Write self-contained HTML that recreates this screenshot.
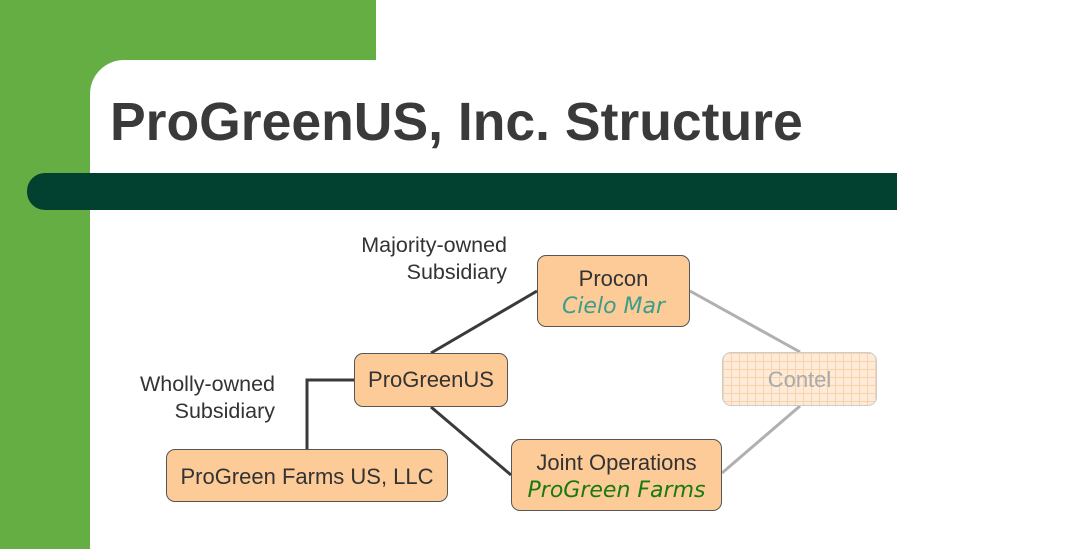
<!DOCTYPE html>
<html><head><meta charset="utf-8"><style>
body{margin:0;width:1079px;height:549px;position:relative;overflow:hidden;background:#fff;font-family:"Liberation Sans",sans-serif}
.a{position:absolute}
.box{position:absolute;background:#fdcb98;border:1px solid #555;border-radius:9px;box-sizing:border-box;text-align:center;color:#333;font-size:22px}
.hand{font-family:"Comic Sans MS","DejaVu Sans",cursive;font-style:italic;font-size:22px}
.lbl{position:absolute;color:#333;font-size:21.5px;text-align:right;line-height:27px}
</style></head><body>
<div class="a" style="left:0;top:0;width:376px;height:60px;background:#65ae43"></div>
<div class="a" style="left:0;top:0;width:90px;height:549px;background:#65ae43"></div>
<div class="a" style="left:90px;top:60px;width:40px;height:40px;background:#65ae43"></div>
<div class="a" style="left:90px;top:60px;width:989px;height:489px;background:#fff;border-top-left-radius:34px"></div>
<div class="a" style="left:27px;top:173px;width:870px;height:37px;background:#024030;border-radius:18px 0 0 18px"></div>
<div class="a" style="left:110px;top:92px;font-size:53.5px;font-weight:bold;color:#3a3a3a">ProGreenUS, Inc. Structure</div>
<svg class="a" style="left:0;top:0" width="1079" height="549">
<g stroke="#3a3a3a" stroke-width="3" fill="none">
<line x1="431" y1="353" x2="537" y2="291"/>
<line x1="431" y1="407" x2="511" y2="475"/>
<polyline points="354,380 307,380 307,449"/>
</g>
<g stroke="#b0b0b0" stroke-width="3">
<line x1="690" y1="291" x2="800" y2="352"/>
<line x1="800" y1="406" x2="722" y2="473"/>
</g>
<rect x="0" y="0" width="0" height="0"/>
</svg>
<div class="lbl" style="left:280px;top:232px;width:227px">Majority-owned<br>Subsidiary</div>
<div class="lbl" style="left:60px;top:371px;width:215px">Wholly-owned<br>Subsidiary</div>
<div class="box" style="left:537px;top:255px;width:153px;height:72px;padding-top:9px;line-height:27px">Procon<br><span class="hand" style="color:#3a9e8a">Cielo Mar</span></div>
<div class="box" style="left:354px;top:353px;width:154px;height:54px;line-height:52px">ProGreenUS</div>
<div class="box" style="left:722px;top:352px;width:155px;height:54px;line-height:54px;background:#fdebd8;border-color:#ccc;color:#aaa;background-image:linear-gradient(#f8d2aa 1px,transparent 1px),linear-gradient(90deg,#f8d2aa 1px,transparent 1px);background-size:8px 8px">Contel</div>
<div class="box" style="left:511px;top:439px;width:211px;height:72px;padding-top:9px;line-height:27px">Joint Operations<br><span class="hand" style="color:#1a7a10">ProGreen Farms</span></div>
<div class="box" style="left:166px;top:449px;width:282px;height:53px;line-height:53px">ProGreen Farms US, LLC</div>
</body></html>
